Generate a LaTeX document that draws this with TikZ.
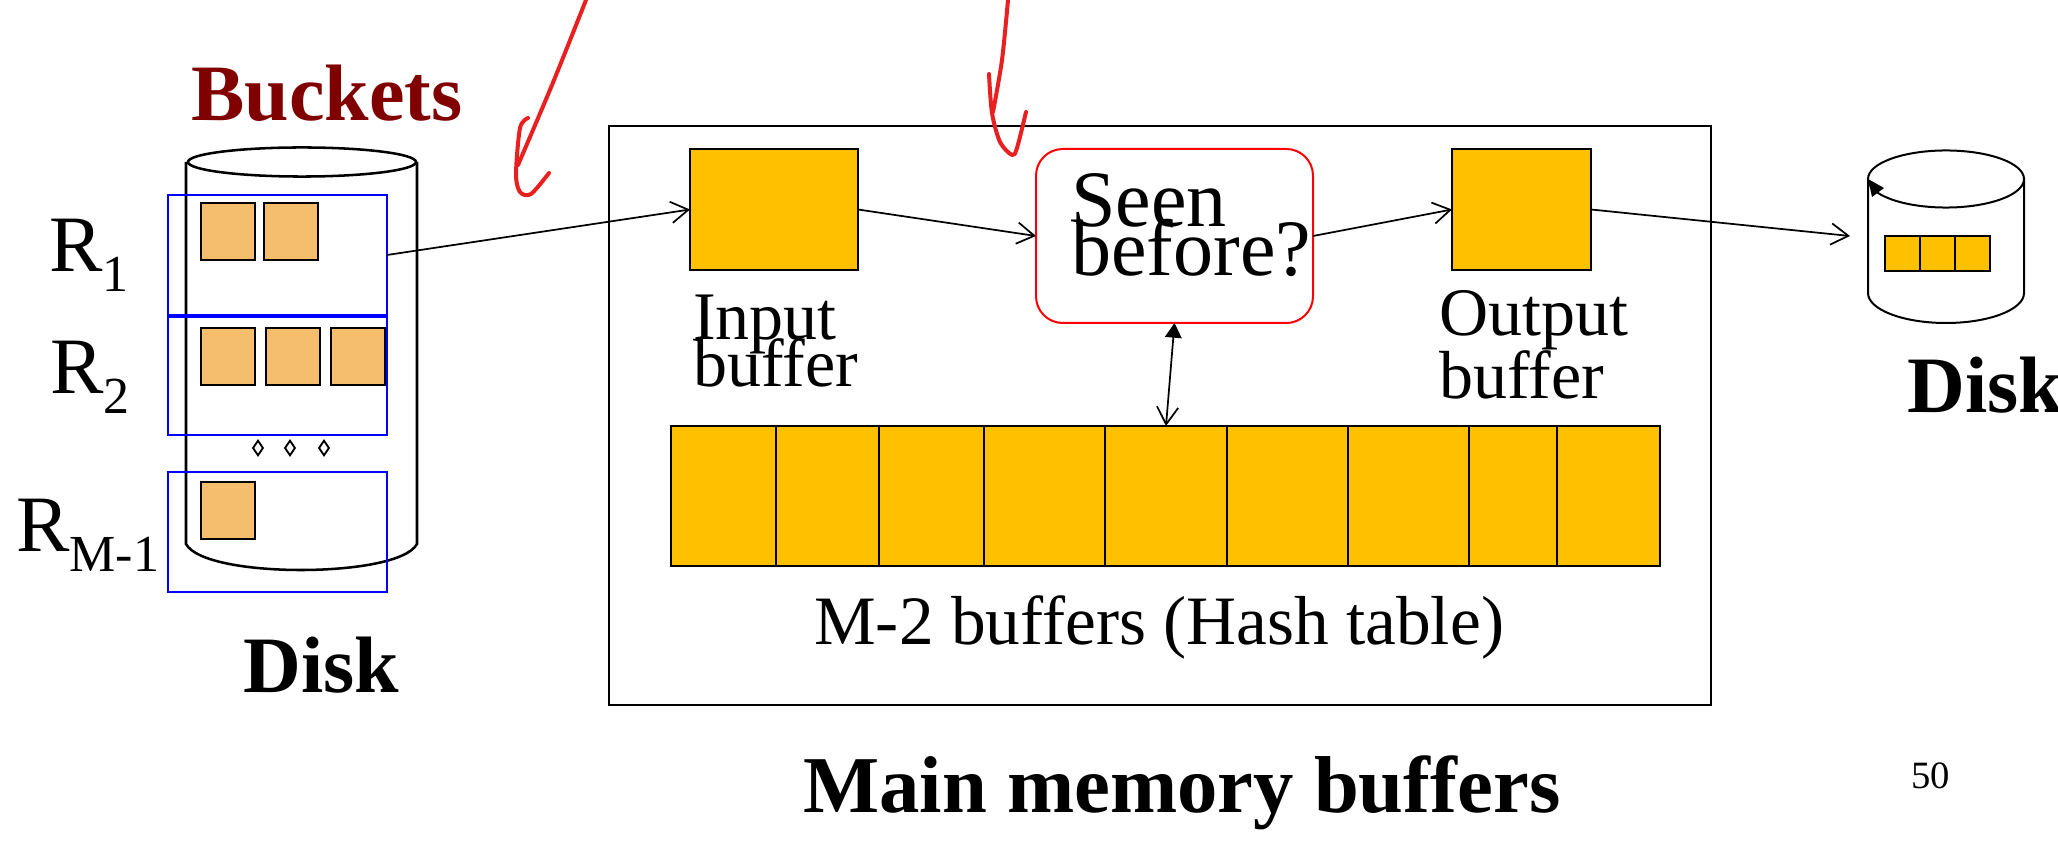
\documentclass[tikz,border=0pt]{standalone}
\usepackage{fontspec}
\setmainfont{Liberation Serif}
\usepackage{tikz}
\usetikzlibrary{arrows.meta, positioning, shapes.geometric}
\definecolor{bucketred}{HTML}{800000}
\definecolor{pageorange}{HTML}{F4BE6C}
\definecolor{bufgold}{HTML}{FFC000}
\definecolor{penred}{HTML}{E8201F}
\newcommand{\rsub}[1]{R\raisebox{-15pt}{\fontsize{39}{39}\selectfont #1}}
\tikzset{%
	big/.style={inner sep=0pt, anchor=base west, font=\fontsize{60}{60}\selectfont},
	bigb/.style={big, font=\fontsize{60}{60}\selectfont\bfseries},
	two/.style={inner sep=0pt, anchor=base west, align=left, execute at begin node={\lineskiplimit=-100pt\relax}},
	frame/.style={draw=blue, line width=1.5pt, minimum width=164.25pt, minimum height=90pt,%
		inner sep=0pt, outer sep=0pt, anchor=north west},
	page/.style={draw, line width=1.9pt, fill=pageorange, minimum width=40.5pt, minimum height=42.75pt,%
		inner sep=0pt, outer sep=0pt, anchor=north west},
	buf/.style={draw, line width=1.3pt, fill=bufgold, minimum height=90.75pt, inner sep=0pt,%
		outer sep=0pt, anchor=north west},
	cell/.style={draw, line width=1.2pt, fill=bufgold, minimum height=105pt, inner sep=0pt, outer sep=0pt},
	diskcell/.style={draw, line width=1.4pt, fill=bufgold, minimum size=26.25pt, inner sep=0pt, outer sep=0pt},
	dot/.style={draw, diamond, line width=1.4pt, minimum width=8pt, minimum height=11.5pt, inner sep=0pt},
	link/.style={line width=1.3pt, -{Straight Barb[length=13pt, width=16pt]}},
	dsk/.style={line width=1.9pt},
	pen/.style={draw=penred, line width=3pt, line cap=round, line join=round}
}
\begin{document}
\begin{tikzpicture}[x=0.75pt, y=-0.75pt]
	\useasboundingbox (0,0) rectangle (2058,841);

	\node[bigb, text=bucketred] (buckets) at (191,121) {Buckets};

	\draw[dsk] (186,162) -- (186,544) .. controls (196,562) and (250,570) .. (301,570)
		.. controls (352,570) and (407,562) .. (417,544) -- (417,162);
	\draw[dsk] (302,162) ellipse (85.5pt and 10.9pt);

	\node[frame] (rone) at (168,195) {};
	\node[frame, minimum height=88.5pt, below=1.5pt of rone] (rtwo) {};
	\node[frame] (rlast) at (168,472) {};
	\node[page] (p1a) at (201,203) {};
	\node[page] (p1b) at (264,203) {};
	\node[page] (p2a) at (201,328) {};
	\node[page] (p2b) at (266,328) {};
	\node[page] (p2c) at (331,328) {};
	\node[page] (p3a) at (201,482) {};
	\node[dot] (d1) at (258,448) {};
	\node[dot] (d2) at (290,448) {};
	\node[dot] (d3) at (324,448) {};

	\node[big] (lone) at (49,272) {\rsub{1}};
	\node[big] (ltwo) at (50,393) {\rsub{2}};
	\node[big] (llast) at (16,551) {\rsub{M-1}};
	\node[bigb] (disk1) at (243,692) {Disk};

	\node[draw, line width=1.5pt, minimum width=826.5pt, minimum height=434.25pt, inner sep=0pt, outer sep=0pt, anchor=north west] (main) at (609,126) {};
	\node[buf, minimum width=126pt] (input) at (690,149) {};
	\node[buf, minimum width=104.25pt] (output) at (1452,149) {};
	\node[draw=red, line width=1.5pt, rounded corners=20pt, minimum width=207.75pt, minimum height=130.5pt, inner sep=0pt, outer sep=0pt, anchor=north west] (seen) at (1036,149) {};
	\node[two, font=\fontsize{60}{37}\selectfont] (seentext) at (1071,276) {Seen\\before?};
	\node[two, font=\fontsize{51}{35}\selectfont] (inputtext) at (693,386) {Input\\buffer};
	\node[two, font=\fontsize{51}{47}\selectfont] (outputtext) at (1439,398) {Output\\buffer};

	\node[cell, minimum width=78.75pt, anchor=north west] (h1) at (671,426) {};
	\node[cell, minimum width=77.25pt, right=0pt of h1] (h2) {};
	\node[cell, minimum width=78.75pt, right=0pt of h2] (h3) {};
	\node[cell, minimum width=90.75pt, right=0pt of h3] (h4) {};
	\node[cell, minimum width=91.5pt, right=0pt of h4] (h5) {};
	\node[cell, minimum width=90.75pt, right=0pt of h5] (h6) {};
	\node[cell, minimum width=90.75pt, right=0pt of h6] (h7) {};
	\node[cell, minimum width=66pt, right=0pt of h7] (h8) {};
	\node[cell, minimum width=77.25pt, right=0pt of h8] (h9) {};
	\node[big, font=\fontsize{52}{52}\selectfont] (hashtext) at (814,644) {M-2 buffers (Hash table)};
	\node[bigb, font=\fontsize{60.5}{60}\selectfont\bfseries] (maintext) at (803,812) {Main memory buffers};
	\node[big, font=\fontsize{29}{29}\selectfont] (pagenum) at (1911,788) {50};

	\draw[line width=1.5pt] (1868,179) -- (1868,293) arc[start angle=180, end angle=360, x radius=58.5pt, y radius=22.5pt] -- (2024,179);
	\draw[line width=1.5pt] (1946,179) ellipse (58.5pt and 21.4pt);
	\coordinate (diskin) at (1850,236);
	\node[diskcell, anchor=north west] (c1) at (1885,236) {};
	\node[diskcell, right=0pt of c1] (c2) {};
	\node[diskcell, right=0pt of c2] (c3) {};
	\fill (1868,179) -- (1884,188) -- (1872,197) -- cycle;
	\node[bigb] (disk2) at (1907,412) {Disk};

	\draw[link] (rone.east) to (input.west);
	\draw[link] (input.east) to (seen.west);
	\draw[link] (seen.east) to (output.west);
	\draw[link] (output.east) to (diskin);
	\draw[line width=1.3pt, {Triangle[length=11pt, width=12.5pt]}-{Straight Barb[length=13pt, width=16pt]}] (seen.south) to (h5.north);

	\draw[pen] plot[smooth] coordinates {(586,0) (552,85) (518,165)};
	\draw[pen] plot[smooth] coordinates {(528,118) (520,128) (516,174) (520,192) (531,194) (549,173)};
	\draw[pen] plot[smooth] coordinates {(1008,0) (1002,60) (993,112)};
	\draw[pen] plot[smooth] coordinates {(989,74) (992,113) (1000,142) (1012,155) (1017,148) (1026,112)};
\end{tikzpicture}
\end{document}
